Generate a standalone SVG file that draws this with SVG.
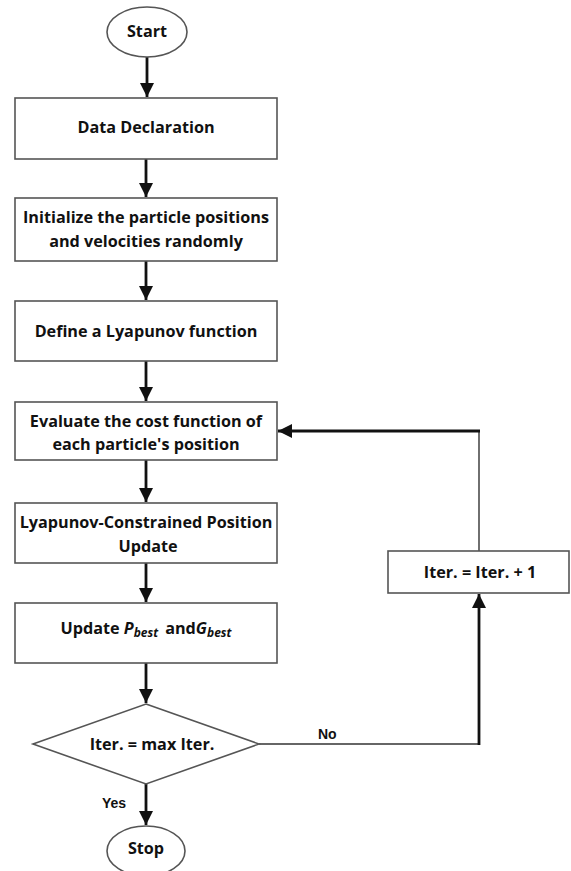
<svg xmlns="http://www.w3.org/2000/svg" width="571" height="871" viewBox="0 0 571 871">
<style>
.shape{fill:#fff;stroke:#555;stroke-width:1.6}
.t{font-family:"Open Sans",Lato,"Liberation Sans",sans-serif;font-weight:700;font-size:16.2px;fill:#111;text-anchor:middle;dominant-baseline:central}
.lbl{font-family:"Liberation Sans",Arial,sans-serif;font-weight:700;font-size:14px;fill:#111;dominant-baseline:central}
.thick{stroke:#111;stroke-width:2.8;fill:none}
.thin{stroke:#333;stroke-width:1.4;fill:none}
</style>
<defs>
<marker id="ah" viewBox="0 0 10 10" refX="10" refY="5" markerWidth="5" markerHeight="5" orient="auto" markerUnits="strokeWidth">
<path d="M0,0 L10,5 L0,10 Z" fill="#111"/>
</marker>
</defs>
<rect width="571" height="871" fill="#fff"/>
<g id="connectors">
<line class="thick" x1="147" y1="57" x2="147" y2="97" marker-end="url(#ah)"/>
<line class="thick" x1="146" y1="159" x2="146" y2="197" marker-end="url(#ah)"/>
<line class="thick" x1="146" y1="261" x2="146" y2="300" marker-end="url(#ah)"/>
<line class="thick" x1="146" y1="361" x2="146" y2="401" marker-end="url(#ah)"/>
<line class="thick" x1="146" y1="460" x2="146" y2="502" marker-end="url(#ah)"/>
<line class="thick" x1="146" y1="563" x2="146" y2="602" marker-end="url(#ah)"/>
<line class="thick" x1="146" y1="663" x2="146" y2="703" marker-end="url(#ah)"/>
<line class="thick" x1="146" y1="784" x2="146" y2="825" marker-end="url(#ah)"/>
<line class="thin" x1="259" y1="744" x2="479" y2="744"/>
<line class="thick" x1="479" y1="745" x2="479" y2="594" marker-end="url(#ah)"/>
<line class="thin" x1="479" y1="551" x2="479" y2="431"/>
<line class="thick" x1="480" y1="431" x2="278" y2="431" marker-end="url(#ah)"/>
<text class="lbl" x="318" y="734">No</text>
<text class="lbl" x="102" y="803">Yes</text>
</g>
<g id="start">
<ellipse class="shape" cx="147" cy="32" rx="40" ry="25"/>
<text class="t" x="147" y="31">Start</text>
</g>
<g id="data">
<rect class="shape" x="15" y="98" width="262" height="61"/>
<text class="t" x="146" y="127">Data Declaration</text>
</g>
<g id="init">
<rect class="shape" x="15" y="198" width="262" height="63"/>
<text class="t" x="146" y="217">Initialize the particle positions</text>
<text class="t" x="146" y="241">and velocities randomly</text>
</g>
<g id="lyap">
<rect class="shape" x="15" y="301" width="262" height="60"/>
<text class="t" x="146" y="331">Define a Lyapunov function</text>
</g>
<g id="eval">
<rect class="shape" x="15" y="402" width="262" height="58"/>
<text class="t" x="146" y="421">Evaluate the cost function of</text>
<text class="t" x="146" y="444">each particle's position</text>
</g>
<g id="update">
<rect class="shape" x="15" y="503" width="262" height="60"/>
<text class="t" x="146" y="522">Lyapunov-Constrained Position</text>
<text class="t" x="148" y="546">Update</text>
</g>
<g id="best">
<rect class="shape" x="15" y="603" width="262" height="60"/>
<text class="t" x="146" y="628">Update <tspan font-style="italic">P</tspan><tspan font-style="italic" font-size="12" dy="4">best</tspan><tspan dy="-4" dx="7">and</tspan><tspan font-style="italic">G</tspan><tspan font-style="italic" font-size="12" dy="4">best</tspan></text>
</g>
<g id="decision">
<polygon class="shape" points="146,704 259,744 146,784 33,744"/>
<text class="t" x="152" y="744" font-size="13.3" font-weight="600">Iter. = max Iter.</text>
</g>
<g id="iter">
<rect class="shape" x="388" y="551" width="181" height="42"/>
<text class="t" x="480" y="572" font-size="17.5">Iter. = Iter. + 1</text>
</g>
<g id="stop">
<ellipse class="shape" cx="146" cy="851" rx="39" ry="25"/>
<text class="t" x="146" y="848">Stop</text>
</g>
</svg>
